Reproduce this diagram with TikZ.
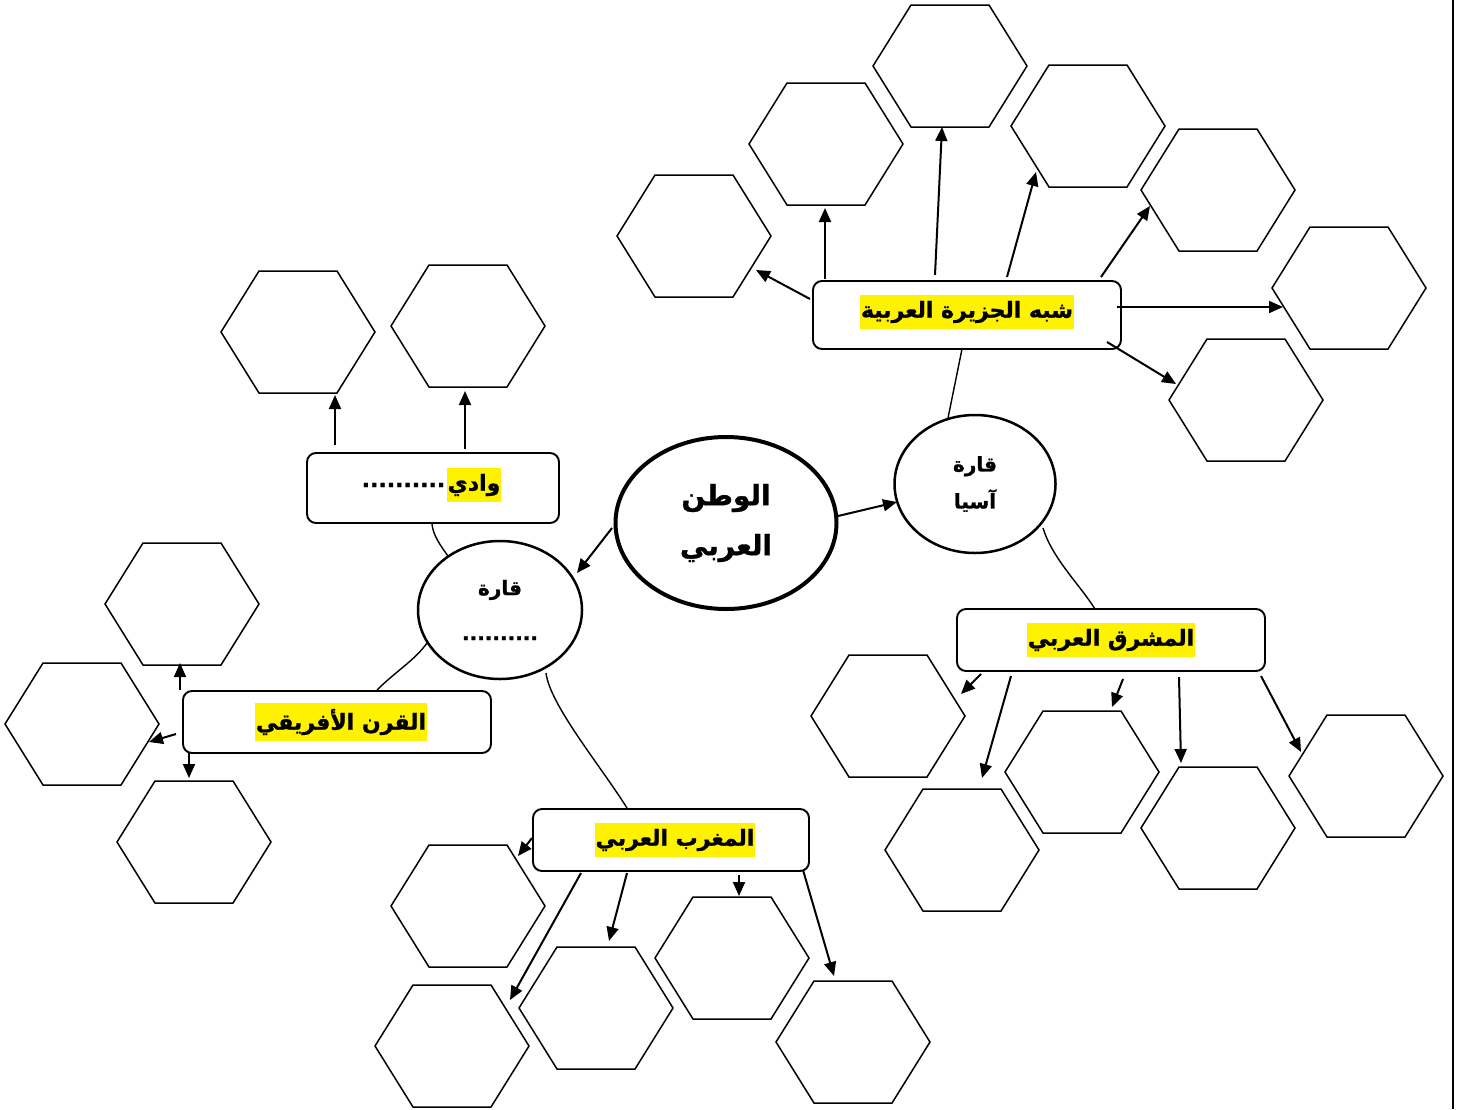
\documentclass[tikz,border=0pt]{standalone}
\usepackage{fontspec}
\usetikzlibrary{arrows.meta,shapes.geometric}
\TeXXeTstate=1
\newfontfamily\arabicfont[Script=Arabic,BoldFeatures={FakeBold=1.2}]{DejaVu Sans}
\newcommand\ar[1]{\beginR #1\endR}
\tikzset{
  hexbox/.style={minimum width=154pt,minimum height=122pt,inner sep=0pt,outer sep=0pt},
  hexline/.style={draw=black,line width=1.5pt,line join=miter},
  topicbox/.style={draw=black,line width=1.9pt,rounded corners=9pt,fill=white,inner sep=0pt},
  hl/.style={fill=yellow,inner xsep=1pt,inner ysep=6pt,font=\arabicfont\bfseries\fontsize{22}{26}\selectfont},
  mainell/.style={draw=black,ellipse,line width=4pt,inner sep=0pt},
  subell/.style={draw=black,ellipse,line width=2.5pt,inner sep=0pt,align=center},
  arr/.style={line width=2pt,-{Triangle[length=14pt,width=12pt]}},
  thin/.style={line width=1.4pt},
}
\newcommand\hexa[3]{\node[hexbox] (#1) at (#2,#3) {};
  \draw[hexline] (#1.west) -- ([xshift=38pt]#1.north west) -- ([xshift=-38pt]#1.north east) -- (#1.east) -- ([xshift=-38pt]#1.south east) -- ([xshift=38pt]#1.south west) -- cycle;}
\begin{document}
\begin{tikzpicture}[x=1pt,y=-1pt]
\useasboundingbox (0,0) rectangle (1458,1109);
\fill[white] (0,0) rectangle (1458,1109);
% hexagons
\hexa{h1}{950}{66}
\hexa{h2}{826}{144}
\hexa{h3}{694}{236}
\hexa{h4}{1088}{126}
\hexa{h5}{1218}{190}
\hexa{h6}{1349}{288}
\hexa{h7}{1246}{400}
\hexa{h8}{298}{332}
\hexa{h9}{468}{326}
\hexa{h10}{182}{604}
\hexa{h11}{82}{724}
\hexa{h12}{194}{842}
\hexa{h13}{888}{716}
\hexa{h14}{962}{850}
\hexa{h15}{1082}{772}
\hexa{h16}{1218}{828}
\hexa{h17}{1366}{776}
\hexa{h18}{468}{906}
\hexa{h19}{452}{1046}
\hexa{h20}{596}{1008}
\hexa{h21}{732}{958}
\hexa{h22}{853}{1042}

% boxes
\node[topicbox,minimum width=308pt,minimum height=68pt] (peninsula) at (967,315) {};
\node[hl] (peninsulaT) at (967,312) {\ar{شبه الجزيرة العربية}};
\node[topicbox,minimum width=308pt,minimum height=62pt] (mashriq) at (1111,640) {};
\node[hl] (mashriqT) at (1111,640) {\ar{المشرق العربي}};
\node[topicbox,minimum width=252pt,minimum height=70pt] (wadi) at (433,488) {};
\node[hl] (wadiT) at (474,485) {\ar{وادي}};
\node[font=\arabicfont\bfseries\fontsize{22}{26}\selectfont,anchor=east,inner sep=1pt] (wadiD) at (wadiT.west) {..........};
\node[topicbox,minimum width=308pt,minimum height=62pt] (horn) at (337,722) {};
\node[hl] (hornT) at (341,722) {\ar{القرن الأفريقي}};
\node[topicbox,minimum width=276pt,minimum height=62pt] (maghrib) at (671,840) {};
\node[hl] (maghribT) at (675,840) {\ar{المغرب العربي}};

% ellipses
\node[mainell,minimum width=221pt,minimum height=172pt,align=center,font=\arabicfont\bfseries\fontsize{28}{50}\selectfont] (home) at (726,523) {\ar{الوطن}\\\ar{العربي}};
\node[subell,minimum width=161pt,minimum height=138pt,font=\arabicfont\bfseries\fontsize{20}{37}\selectfont] (asia) at (975,484) {\ar{قارة}\\\ar{آسيا}};
\node[subell,minimum width=164pt,minimum height=138pt,font=\arabicfont\bfseries\fontsize{20}{45}\selectfont] (africa) at (500,610) {\ar{قارة}\\..........};

% main arrows
\draw[arr] (838,516) -- (897,502);
\draw[arr] (612,528) -- (577,573);

% thin connectors
\draw[thin] (948,418) -- (962,349);
\draw[thin] (1043,528) .. controls (1052,558) and (1080,585) .. (1095,609);
\draw[thin] (448,556) .. controls (440,545) and (433,535) .. (432,524);
\draw[thin] (427,643) .. controls (415,660) and (395,672) .. (377,690);
\draw[thin] (546,673) .. controls (550,705) and (600,765) .. (627,808);

% peninsula arrows
\draw[arr] (810,299) -- (756,270);
\draw[arr] (825,279) -- (825,208);
\draw[arr] (935,275) -- (942,127);
\draw[arr] (1007,277) -- (1036,172);
\draw[arr] (1101,277) -- (1150,206);
\draw[arr] (1117,307) -- (1283,307);
\draw[arr] (1107,342) -- (1176,384);

% wadi arrows
\draw[arr] (335,445) -- (335,395);
\draw[arr] (465,449) -- (465,391);

% horn arrows
\draw[arr] (180,690) -- (180,663);
\draw[arr] (176,734) -- (149,742);
\draw[arr] (189,753) -- (189,778);

% mashriq arrows
\draw[arr] (981,674) -- (961,694);
\draw[arr] (1011,676) -- (982,778);
\draw[arr] (1123,679) -- (1112,707);
\draw[arr] (1179,677) -- (1181,763);
\draw[arr] (1261,676) -- (1301,752);

% maghrib arrows
\draw[arr] (532,838) -- (518,856);
\draw[arr] (581,873) -- (510,1000);
\draw[arr] (627,873) -- (609,941);
\draw[arr] (739,875) -- (739,896);
\draw[arr] (803,870) -- (834,976);

% right edge line
\draw[line width=1.5pt] (1453,0) -- (1453,1109);
\end{tikzpicture}
\end{document}
